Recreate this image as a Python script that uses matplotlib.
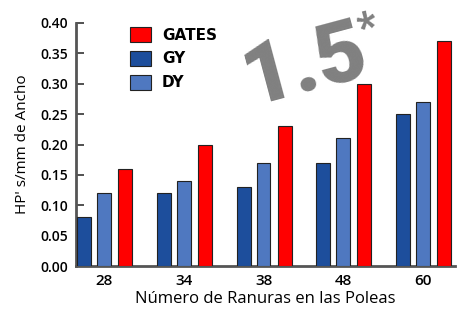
import matplotlib
matplotlib.use("Agg")
import matplotlib.pyplot as plt
import numpy as np
from matplotlib import font_manager
from matplotlib.patches import Patch

categories = ["28", "34", "38", "48", "60"]
gy_values = [0.08, 0.12, 0.13, 0.17, 0.25]
dy_values = [0.12, 0.14, 0.17, 0.21, 0.27]
gates_values = [0.16, 0.20, 0.23, 0.30, 0.37]
series_names = ["GATES", "GY", "DY"]
y_ticks = [0.00, 0.05, 0.10, 0.15, 0.20, 0.25, 0.30, 0.35, 0.40]

names = {f.name for f in font_manager.fontManager.ttflist}
big_font = "Roboto" if "Roboto" in names else "DejaVu Sans"
main_font = "Open Sans" if "Open Sans" in names else "DejaVu Sans"

W, H = 464, 317
fig = plt.figure(figsize=(W / 100, H / 100), dpi=100)
ax = fig.add_axes([76 / W, 1 - 266 / H, (455 - 76) / W, (266 - 23) / H])

c_gates = "#ff0000"
c_gy = "#1d4e9c"
c_dy = "#4f78c0"
edge = "#222222"

x = np.arange(len(categories))
bw = 0.175
ax.bar(x - 0.25, gy_values, bw, color=c_gy, edgecolor=edge, linewidth=0.8, zorder=3)
ax.bar(x, dy_values, bw, color=c_dy, edgecolor=edge, linewidth=0.8, zorder=3)
ax.bar(x + 0.265, gates_values, bw, color=c_gates, edgecolor=edge, linewidth=0.8, zorder=3)

ax.set_xlim(-0.356, 4.406)
ax.set_ylim(0, 0.40)
ax.set_yticks(y_ticks)
ax.set_yticklabels([f"{v:.2f}" for v in y_ticks], fontfamily=main_font,
                   fontweight="semibold", fontsize=10)
ax.set_xticks(x)
ax.set_xticklabels(categories, fontfamily=main_font, fontweight="semibold", fontsize=11)
ax.tick_params(axis="y", direction="in", length=6, width=1.2, color="#333333", pad=6)
ax.tick_params(axis="x", length=0, pad=6)

for s in ["top", "right"]:
    ax.spines[s].set_visible(False)
for s in ["left", "bottom"]:
    ax.spines[s].set_color("#555555")
    ax.spines[s].set_linewidth(2)

ax.set_ylabel("HP' s/mm de Ancho", fontfamily=main_font, fontsize=11, labelpad=7)
ax.set_xlabel("Número de Ranuras en las Poleas", fontfamily=main_font, fontsize=12, labelpad=2)

handles = [Patch(facecolor=c_gates, edgecolor=edge, linewidth=0.8),
           Patch(facecolor=c_gy, edgecolor=edge, linewidth=0.8),
           Patch(facecolor=c_dy, edgecolor=edge, linewidth=0.8)]
fig.legend(handles, series_names, loc="upper left", bbox_to_anchor=(130 / W, 1 - 27 / H),
           frameon=False, borderpad=0, borderaxespad=0, handlelength=1.35,
           handleheight=1.1, handletextpad=0.75, labelspacing=0.55,
           prop={"family": "DejaVu Sans", "weight": "bold", "size": 11})

fig.text(305 / W, 1 - 66 / H, "1.5", fontsize=62, fontweight=900, family=big_font,
         color="#808080", rotation=15, ha="center", va="center", rotation_mode="anchor")
fig.text(368 / W, 1 - 28 / H, "*", fontsize=30, fontweight=900, family=big_font,
         color="#808080", rotation=15, ha="center", va="center", rotation_mode="anchor")

fig.savefig("out.png", dpi=100)
